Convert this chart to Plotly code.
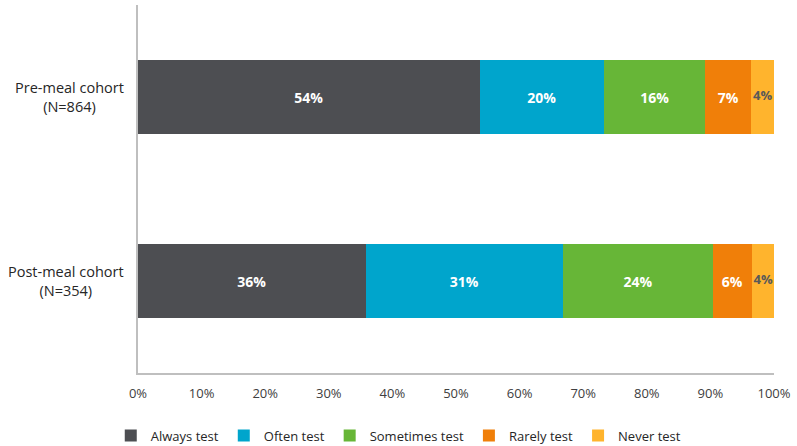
import plotly.graph_objects as go

categories = ["Pre-meal cohort<br>(N=864)", "Post-meal cohort<br>(N=354)"]
series_names = ["Always test", "Often test", "Sometimes test", "Rarely test", "Never test"]
always_test = [53.7, 35.8]
often_test = [19.6, 31.0]
sometimes_test = [15.9, 23.6]
rarely_test = [7.2, 6.1]
never_test = [3.6, 3.6]
x_ticks = [0, 10, 20, 30, 40, 50, 60, 70, 80, 90, 100]
x_tick_labels = [f"{v}%" for v in x_ticks]

series_values = [always_test, often_test, sometimes_test, rarely_test, never_test]
colors = ["#4d4e52", "#00a5cc", "#67b637", "#f07f09", "#ffb42d"]

FONT = "Open Sans, Noto Sans, sans-serif"

fig = go.Figure()
for i, (name, vals, col) in enumerate(zip(series_names, series_values, colors)):
    last = i == len(series_names) - 1
    fig.add_trace(go.Bar(
        y=categories, x=vals, name=name, orientation="h",
        marker=dict(color=col, line=dict(width=0)),
        texttemplate="%{x:.0f}%", textposition="none" if last else "inside",
        insidetextanchor="middle", textangle=0, constraintext="none",
        textfont=dict(color="white", size=14, family=FONT, weight="bold"),
        hoverinfo="x+name",
    ))

# labels for the narrow last segment, placed at its middle
prior = [sum(s[k] for s in series_values[:-1]) for k in range(len(categories))]
fig.add_trace(go.Scatter(
    y=categories, x=[p + v / 2 for p, v in zip(prior, never_test)],
    mode="text", text=[f"{v:.0f}%" for v in never_test],
    textfont=dict(color="#595959", size=13, family=FONT, weight="bold"),
    showlegend=False, cliponaxis=False, hoverinfo="skip",
))

for cat in categories:
    fig.add_annotation(
        x=0, xref="paper", xanchor="right", xshift=-12,
        y=cat, yref="y", yanchor="middle",
        text=cat, showarrow=False, align="center",
        font=dict(size=14.5, color="#262626", family=FONT),
    )

fig.update_layout(
    width=797, height=446,
    margin=dict(l=138, r=23, t=5, b=73, autoexpand=False),
    barmode="stack", bargap=0.6,
    plot_bgcolor="white", paper_bgcolor="white",
    font=dict(family=FONT, size=13, color="#404040"),
    showlegend=True,
    legend=dict(orientation="h", x=0.41, xanchor="center",
                y=-0.17, yanchor="middle", font=dict(size=13, color="#262626"),
                traceorder="normal", itemwidth=30),
    xaxis=dict(range=[0, 100], tickvals=x_ticks, ticktext=x_tick_labels,
               tickangle=0, automargin=False,
               showgrid=False, zeroline=False, showline=True,
               linecolor="#bfbfbf", linewidth=1.5,
               ticks="outside", ticklen=8, tickcolor="rgba(0,0,0,0)",
               tickfont=dict(size=13, color="#404040")),
    yaxis=dict(autorange="reversed", showticklabels=False, showgrid=False,
               automargin=False,
               zeroline=False, showline=True, linecolor="#bfbfbf", linewidth=1.5),
)

fig.write_html("out.html", config={"displayModeBar": False},
               post_script="document.body.style.margin='0';")
